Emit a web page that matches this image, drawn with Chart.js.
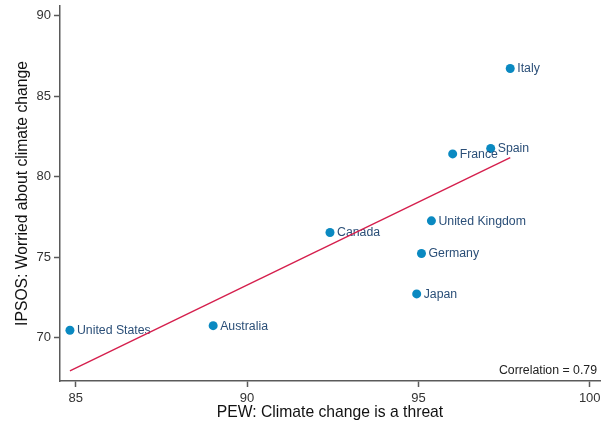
<!DOCTYPE html>
<html>
<head>
<meta charset="utf-8">
<script src="https://cdn.jsdelivr.net/npm/chart.js@4/dist/chart.umd.min.js"></script>
<style>
  html, body { margin: 0; padding: 0; background: #fff; }
  #wrap { width: 607px; height: 426px; position: relative; }
</style>
</head>
<body>
<div id="wrap"><canvas id="c" width="607" height="426"></canvas></div>
<script>
// Country survey results: PEW (threat) vs IPSOS (worried)
const countries = ['United States', 'Australia', 'Canada', 'United Kingdom', 'Germany', 'Japan', 'Italy', 'Spain', 'France'];
const pewValues = [84.83, 89.01, 92.42, 95.38, 95.09, 94.95, 97.68, 97.11, 96.00];
const ipsosValues = [70.45, 70.74, 76.53, 77.25, 75.22, 72.71, 86.72, 81.75, 81.41];
const xTicks = [85, 90, 95, 100];
const yTicks = [70, 75, 80, 85, 90];

// Least-squares fit and Pearson correlation
function fitStats(xs, ys) {
  const n = xs.length;
  const mx = xs.reduce((a, b) => a + b, 0) / n;
  const my = ys.reduce((a, b) => a + b, 0) / n;
  let sxy = 0, sxx = 0, syy = 0;
  for (let i = 0; i < n; i++) {
    sxy += (xs[i] - mx) * (ys[i] - my);
    sxx += (xs[i] - mx) ** 2;
    syy += (ys[i] - my) ** 2;
  }
  const slope = sxy / sxx;
  return { slope, intercept: my - slope * mx, r: sxy / Math.sqrt(sxx * syy) };
}
const stats = fitStats(pewValues, ipsosValues);
const xMin = Math.min(...pewValues), xMax = Math.max(...pewValues);
const fitLine = [xMin, xMax].map(x => ({ x, y: stats.intercept + stats.slope * x }));

const points = pewValues.map((x, i) => ({ x, y: ipsosValues[i] }));

const FONT = "'Liberation Sans', Arial, sans-serif";
const AXIS = '#5a5a5a';

const pointLabels = {
  id: 'pointLabels',
  afterDatasetDraw(chart, args) {
    if (args.index !== 1) return;
    const { ctx, scales } = chart;
    ctx.save();
    ctx.font = '12.3px ' + FONT;
    ctx.fillStyle = '#2b4f78';
    ctx.textAlign = 'left';
    ctx.textBaseline = 'middle';
    countries.forEach((name, i) => {
      const px = scales.x.getPixelForValue(pewValues[i]);
      const py = scales.y.getPixelForValue(ipsosValues[i]);
      ctx.fillText(name, px + 7, py + 0.5);
    });
    ctx.restore();
  },
  afterDraw(chart) {
    const { ctx, chartArea } = chart;
    ctx.save();
    ctx.font = '12.3px ' + FONT;
    ctx.fillStyle = '#222';
    ctx.textAlign = 'right';
    ctx.textBaseline = 'middle';
    ctx.fillText('Correlation = ' + stats.r.toFixed(2), chartArea.right - 3, chartArea.bottom - 10);
    ctx.restore();
  }
};

const tickFilter = list => scale => {
  scale.ticks = list.map(v => ({ value: v }));
};

new Chart(document.getElementById('c'), {
  data: {
    datasets: [
      {
        type: 'line',
        data: fitLine,
        borderColor: '#d51f4d',
        borderWidth: 1.4,
        pointRadius: 0,
        fill: false
      },
      {
        type: 'scatter',
        data: points,
        backgroundColor: '#0a89c1',
        borderWidth: 0,
        pointRadius: 4.5,
        pointHoverRadius: 4.5
      }
    ]
  },
  options: {
    responsive: false,
    animation: false,
    events: [],
    layout: { padding: { top: 6, right: 7, left: 0, bottom: 0 } },
    plugins: { legend: { display: false }, tooltip: { enabled: false } },
    scales: {
      x: {
        type: 'linear',
        min: 84.54,
        max: 100.3,
        afterBuildTicks: tickFilter(xTicks),
        afterFit: s => { s.height = 45; s.paddingLeft = 0; s.paddingRight = 0; },
        border: { display: true, color: AXIS, width: 1.5 },
        grid: { drawOnChartArea: false, drawTicks: true, tickLength: 6, color: AXIS, tickWidth: 1.5 },
        ticks: { color: '#333', font: { family: FONT, size: 13 }, padding: 4, maxRotation: 0 },
        title: { display: true, text: 'PEW: Climate change is a threat', color: '#111', font: { family: FONT, size: 15.7 }, padding: { top: 0, bottom: 4 } }
      },
      y: {
        type: 'linear',
        min: 67.3,
        max: 90.6,
        afterBuildTicks: tickFilter(yTicks),
        afterFit: s => { s.width = 60; s.paddingTop = 0; s.paddingBottom = 0; },
        border: { display: true, color: AXIS, width: 1.5 },
        grid: { drawOnChartArea: false, drawTicks: true, tickLength: 6, color: AXIS, tickWidth: 1.5 },
        ticks: { color: '#333', font: { family: FONT, size: 13 }, padding: 3 },
        title: { display: true, text: 'IPSOS: Worried about climate change', color: '#111', font: { family: FONT, size: 15.7 }, padding: { top: 13, bottom: 0 } }
      }
    }
  },
  plugins: [pointLabels]
});
</script>
</body>
</html>
